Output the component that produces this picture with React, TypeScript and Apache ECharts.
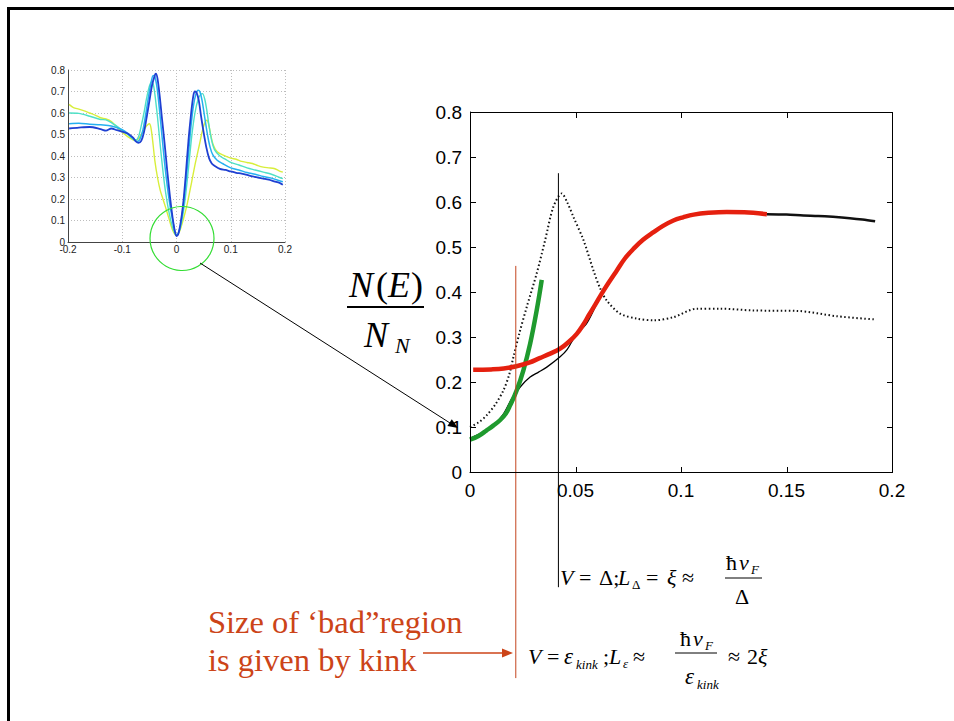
import React, { useEffect, useRef } from "react";
import * as echarts from "echarts";

// ---------- main chart data ----------
const mainXTicks = { min: 0, max: 0.2, interval: 0.05 };
const mainYTicks = { min: 0, max: 0.8, interval: 0.1 };

const dottedDOS: number[][] = [
  [0, 0.1], [0.004, 0.11], [0.0079, 0.126], [0.012, 0.15], [0.0158, 0.181], [0.0185, 0.215],
  [0.0206, 0.256], [0.0235, 0.31], [0.0269, 0.367], [0.0316, 0.441], [0.0356, 0.515],
  [0.0395, 0.589], [0.0435, 0.619], [0.046, 0.6], [0.049, 0.567], [0.0538, 0.515],
  [0.0585, 0.448], [0.0615, 0.41], [0.0648, 0.381], [0.0711, 0.352], [0.079, 0.341],
  [0.087, 0.337], [0.0964, 0.344], [0.1075, 0.363], [0.1186, 0.363], [0.134, 0.359],
  [0.155, 0.358], [0.174, 0.346], [0.192, 0.339],
];

const blackLow: number[][] = [
  [0, 0.075], [0.006, 0.088], [0.012, 0.108], [0.016, 0.13], [0.0198, 0.163], [0.024, 0.19],
  [0.0285, 0.211], [0.0325, 0.222], [0.0364, 0.233], [0.0427, 0.256], [0.046, 0.272],
  [0.049, 0.296], [0.0506, 0.307], [0.0553, 0.33], [0.0617, 0.389], [0.0696, 0.448],
  [0.0775, 0.496], [0.087, 0.533], [0.0964, 0.559], [0.106, 0.572], [0.1217, 0.578], [0.1407, 0.573],
];

const blackTail: number[][] = [
  [0.1407, 0.573], [0.15, 0.572], [0.158, 0.57], [0.165, 0.569], [0.172, 0.567],
  [0.18, 0.564], [0.186, 0.561], [0.192, 0.557],
];

const greenFit: number[][] = [
  [0, 0.072], [0.004, 0.08], [0.0079, 0.0926], [0.011, 0.103], [0.0142, 0.115], [0.017, 0.13],
  [0.019, 0.148], [0.0221, 0.181], [0.0253, 0.226], [0.0285, 0.285], [0.0316, 0.359], [0.034, 0.427],
];

const redFit: number[][] = [
  [0.0015, 0.227], [0.01, 0.228], [0.016, 0.23], [0.022, 0.235], [0.028, 0.243], [0.033, 0.253],
  [0.038, 0.263], [0.0427, 0.274], [0.047, 0.29], [0.0506, 0.307], [0.0535, 0.326], [0.0565, 0.35],
  [0.0595, 0.373], [0.0625, 0.397], [0.0656, 0.42], [0.0696, 0.448], [0.0735, 0.475], [0.0775, 0.496],
  [0.082, 0.516], [0.087, 0.533], [0.0915, 0.547], [0.0964, 0.559], [0.101, 0.566], [0.106, 0.572],
  [0.113, 0.576], [0.1217, 0.578], [0.13, 0.577], [0.1407, 0.573],
];

// vertical markers (extend past the plot, drawn unclipped)
const kinkLine: number[][] = [[0.0217, 0.458], [0.0217, -0.458]];
const gapLine: number[][] = [[0.0419, 0.664], [0.0419, -0.256]];

// ---------- inset data ----------
const insetXTicks = { min: -0.2, max: 0.2, interval: 0.1 };
const insetYTicks = { min: 0, max: 0.8, interval: 0.1 };

const insetYellow: number[][] = [
  [-0.198, 0.64], [-0.19, 0.625], [-0.18, 0.618], [-0.17, 0.61], [-0.16, 0.6], [-0.15, 0.59],
  [-0.14, 0.578], [-0.13, 0.572], [-0.12, 0.56], [-0.11, 0.535], [-0.1, 0.51], [-0.09, 0.49],
  [-0.08, 0.475], [-0.076, 0.473], [-0.07, 0.48], [-0.065, 0.5], [-0.06, 0.52], [-0.055, 0.54],
  [-0.05, 0.55], [-0.047, 0.53], [-0.043, 0.45], [-0.04, 0.38], [-0.035, 0.3], [-0.03, 0.24],
  [-0.025, 0.2], [-0.02, 0.16], [-0.014, 0.11], [-0.008, 0.06], [-0.003, 0.035], [0, 0.03],
  [0.005, 0.045], [0.012, 0.1], [0.02, 0.18], [0.028, 0.28], [0.035, 0.37], [0.042, 0.45],
  [0.048, 0.52], [0.053, 0.56], [0.056, 0.566], [0.059, 0.55], [0.063, 0.5], [0.068, 0.45],
  [0.075, 0.42], [0.085, 0.405], [0.1, 0.39], [0.11, 0.385], [0.12, 0.375], [0.13, 0.37],
  [0.14, 0.365], [0.15, 0.355], [0.16, 0.348], [0.17, 0.345], [0.18, 0.342], [0.19, 0.33], [0.196, 0.325],
];

const insetAqua: number[][] = [
  [-0.198, 0.6], [-0.18, 0.598], [-0.16, 0.585], [-0.14, 0.57], [-0.13, 0.568], [-0.12, 0.555],
  [-0.1, 0.52], [-0.09, 0.5], [-0.08, 0.48], [-0.075, 0.475], [-0.07, 0.49], [-0.065, 0.54],
  [-0.06, 0.6], [-0.055, 0.67], [-0.05, 0.725], [-0.046, 0.745], [-0.043, 0.735], [-0.04, 0.69],
  [-0.035, 0.58], [-0.03, 0.45], [-0.025, 0.33], [-0.02, 0.23], [-0.014, 0.14], [-0.008, 0.075],
  [-0.003, 0.04], [0, 0.03], [0.005, 0.05], [0.01, 0.1], [0.016, 0.2], [0.022, 0.34], [0.028, 0.49],
  [0.034, 0.6], [0.04, 0.665], [0.045, 0.688], [0.048, 0.69], [0.052, 0.665], [0.056, 0.61],
  [0.06, 0.54], [0.065, 0.47], [0.07, 0.43], [0.08, 0.4], [0.09, 0.385], [0.1, 0.37], [0.115, 0.358],
  [0.13, 0.345], [0.145, 0.335], [0.16, 0.325], [0.175, 0.315], [0.19, 0.3], [0.196, 0.295],
];

const insetLightBlue: number[][] = [
  [-0.198, 0.55], [-0.18, 0.552], [-0.16, 0.548], [-0.14, 0.545], [-0.12, 0.54], [-0.1, 0.522],
  [-0.09, 0.505], [-0.08, 0.48], [-0.073, 0.468], [-0.068, 0.475], [-0.062, 0.52], [-0.057, 0.59],
  [-0.052, 0.67], [-0.047, 0.74], [-0.043, 0.775], [-0.04, 0.77], [-0.036, 0.72], [-0.032, 0.63],
  [-0.027, 0.5], [-0.022, 0.37], [-0.017, 0.26], [-0.012, 0.17], [-0.007, 0.1], [-0.003, 0.05],
  [0, 0.03], [0.004, 0.045], [0.009, 0.1], [0.014, 0.2], [0.02, 0.35], [0.026, 0.52], [0.031, 0.63],
  [0.036, 0.69], [0.04, 0.706], [0.043, 0.7], [0.047, 0.66], [0.052, 0.58], [0.057, 0.5],
  [0.062, 0.44], [0.067, 0.405], [0.075, 0.38], [0.085, 0.365], [0.1, 0.345], [0.115, 0.335],
  [0.13, 0.323], [0.145, 0.315], [0.16, 0.305], [0.175, 0.297], [0.19, 0.285], [0.196, 0.28],
];

const insetBlue: number[][] = [
  [-0.198, 0.528], [-0.18, 0.532], [-0.16, 0.535], [-0.14, 0.525], [-0.13, 0.518], [-0.12, 0.528],
  [-0.11, 0.52], [-0.1, 0.513], [-0.09, 0.505], [-0.08, 0.485], [-0.075, 0.468], [-0.07, 0.461],
  [-0.065, 0.47], [-0.06, 0.51], [-0.055, 0.58], [-0.05, 0.655], [-0.045, 0.73], [-0.04, 0.775],
  [-0.038, 0.783], [-0.035, 0.76], [-0.031, 0.68], [-0.027, 0.58], [-0.022, 0.46], [-0.017, 0.33],
  [-0.012, 0.21], [-0.007, 0.11], [-0.003, 0.05], [0, 0.028], [0.003, 0.035], [0.007, 0.08],
  [0.012, 0.17], [0.017, 0.31], [0.022, 0.47], [0.027, 0.6], [0.031, 0.68], [0.034, 0.7],
  [0.037, 0.695], [0.041, 0.66], [0.045, 0.59], [0.05, 0.51], [0.055, 0.44], [0.06, 0.39],
  [0.065, 0.365], [0.07, 0.355], [0.08, 0.34], [0.09, 0.335], [0.1, 0.328], [0.11, 0.322],
  [0.12, 0.318], [0.13, 0.312], [0.14, 0.305], [0.15, 0.3], [0.16, 0.295], [0.17, 0.29],
  [0.18, 0.282], [0.19, 0.275], [0.196, 0.266],
];

// ---------- layout ----------
const MAIN_GRID = { left: 470, top: 112, width: 422, height: 360 };
const INSET_GRID = { left: 68, top: 70, width: 217, height: 172 };

// ---------- text ----------
const SERIF = '"Liberation Serif", "Times New Roman", serif';
const SANS = '"Liberation Sans", Arial, sans-serif';
const RED_TEXT = "#cc4418";

function T(text: string, x: number, baseline: number, size: number, italic = false, color = "#000", align = "left") {
  const font = `${italic ? "italic " : ""}${size}px ${SERIF}`;
  const y = baseline - 0.335 * size;
  return {
    type: "text",
    silent: true,
    z: 100,
    style: {
      text, x, y, font, fill: color,
      textAlign: align, align,
      textVerticalAlign: "middle", verticalAlign: "middle",
    },
  };
}

function L(x1: number, y1: number, x2: number, y2: number, color = "#000", w = 1) {
  return { type: "line", silent: true, z: 100, shape: { x1, y1, x2, y2 }, style: { stroke: color, lineWidth: w } };
}

// solid filled bar (used for the plot box edges and ticks)
function R(x: number, y: number, width: number, height: number, color = "#000") {
  return { type: "rect", silent: true, z: 100, shape: { x, y, width, height }, style: { fill: color } };
}

function lineSeries(data: number[][], color: string, width: number, axisIdx: number, extra: any = {}) {
  return {
    type: "line",
    data,
    xAxisIndex: axisIdx,
    yAxisIndex: axisIdx,
    showSymbol: false,
    symbol: "none",
    smooth: extra.smooth ?? false,
    silent: true,
    lineStyle: { color, width, ...(extra.lineStyle || {}) },
    ...(extra.clip === false ? { clip: false } : {}),
  };
}

function tickValues(t: { min: number; max: number; interval: number }) {
  const out: number[] = [];
  const n = Math.round((t.max - t.min) / t.interval);
  for (let i = 0; i <= n; i++) out.push(+(t.min + i * t.interval).toFixed(6));
  return out;
}

// main-plot value -> pixel, following the grid's linear value axes
const mainPx = (x: number, y: number) => [
  MAIN_GRID.left + ((x - mainXTicks.min) / (mainXTicks.max - mainXTicks.min)) * MAIN_GRID.width,
  MAIN_GRID.top + MAIN_GRID.height - ((y - mainYTicks.min) / (mainYTicks.max - mainYTicks.min)) * MAIN_GRID.height,
];

function boxGraphic(): any[] {
  const tl = mainPx(mainXTicks.min, mainYTicks.max);
  const br = mainPx(mainXTicks.max, mainYTicks.min);
  const x0 = Math.round(tl[0]), y0 = Math.round(tl[1]);
  const x1 = Math.round(br[0]), y1 = Math.round(br[1]);
  const out: any[] = [
    R(x0, y0, x1 - x0 + 1, 1),          // top edge
    R(x1, y0, 1, y1 - y0 + 1),          // right edge
    R(x0, y0, 1, y1 - y0 + 1),          // left edge
    R(x0, y1, x1 - x0 + 1, 1),          // bottom edge
  ];
  for (const v of tickValues(mainXTicks)) {
    const x = Math.round(mainPx(v, 0)[0]);
    out.push(R(x, y1 - 5, 1, 5), R(x, y0 + 1, 1, 5));
  }
  for (const v of tickValues(mainYTicks)) {
    const y = Math.round(mainPx(0, v)[1]);
    out.push(R(x0 + 1, y, 5, 1), R(x1 - 5, y, 5, 1));
  }
  return out;
}

const staticGraphic: any[] = [
  // slide frame
  R(7, 7, 947, 3),
  R(7, 7, 3, 714),
  // zoom circle + arrow to main chart
  { type: "circle", silent: true, z: 100, shape: { cx: 182, cy: 238.5, r: 32 }, style: { fill: "none", stroke: "#33dd33", lineWidth: 1.2 } },
  L(200, 263, 450, 423, "#000", 1),
  { type: "polygon", silent: true, z: 100, shape: { points: [[458, 428], [447.4, 426], [451.8, 419.2]] }, style: { fill: "#000" } },
  // N(E)/N_N
  T("N", 349, 297, 36, true),
  T("(", 376, 297, 36),
  T("E", 388, 297, 36, true),
  T(")", 411, 297, 36),
  L(347, 307, 424, 307, "#000", 2),
  T("N", 364, 347, 36, true),
  T("N", 395, 353, 22, true),
  // red annotation
  T("Size of \u2018bad\u201dregion", 208, 633, 32.5, false, RED_TEXT),
  T("is given by kink", 208, 671, 32.5, false, RED_TEXT),
  L(423, 653, 504, 653, RED_TEXT, 1.5),
  { type: "polygon", silent: true, z: 100, shape: { points: [[513, 653], [502, 648.5], [502, 657.5]] }, style: { fill: RED_TEXT } },
  // equation 1
  T("V", 560, 585, 22, true),
  T("=", 579, 585, 22),
  T("\u0394;", 599, 585, 22),
  T("L", 618, 585, 22, true),
  T("\u0394", 632, 589, 13),
  T("=", 646, 585, 22),
  T("\u03be", 667, 585, 22, true),
  T("\u2248", 682, 585, 22),
  T("\u0127", 726, 570, 22),
  T("v", 739, 570, 22, true),
  T("F", 751, 574, 13, true),
  L(725, 578, 762, 578, "#000", 1),
  T("\u0394", 735, 604, 22),
  // equation 2
  T("V", 528, 664, 22, true),
  T("=", 547, 664, 22),
  T("\u03b5", 564, 664, 23, true),
  T("kink", 576, 669, 13, true),
  T(";", 603, 664, 22),
  T("L", 609, 664, 22, true),
  T("\u03b5", 623, 668, 13, true),
  T("\u2248", 633, 664, 22),
  T("\u0127", 680, 646, 22),
  T("v", 693, 646, 22, true),
  T("F", 705, 650, 13, true),
  L(675, 653, 717, 653, "#000", 1),
  T("\u03b5", 685, 684, 23, true),
  T("kink", 697, 689, 13, true),
  T("\u2248", 728, 664, 22),
  T("2", 747, 664, 22),
  T("\u03be", 758, 664, 22, true),
];

export default function App() {
  const ref = useRef<HTMLDivElement>(null);

  useEffect(() => {
    if (!ref.current) return;
    const chart = echarts.init(ref.current, null, { renderer: "svg" });

    const mainLabel = { fontSize: 19, color: "#000", fontFamily: SANS };
    const insetLabel = { fontSize: 10, color: "#222", fontFamily: SANS };

    const option: any = {
      animation: false,
      backgroundColor: "#fff",
      grid: [MAIN_GRID, INSET_GRID],
      xAxis: [
        {
          gridIndex: 0, type: "value", ...mainXTicks, position: "bottom",
          axisLine: { show: true, onZero: false, lineStyle: { color: "#000", width: 1 } },
          axisTick: { show: false },
          axisLabel: { ...mainLabel, margin: 9 },
          splitLine: { show: false },
        },
        {
          gridIndex: 1, type: "value", ...insetXTicks, position: "bottom",
          axisLine: { show: true, onZero: false, lineStyle: { color: "#444", width: 1 } },
          axisTick: { show: false },
          axisLabel: { ...insetLabel, margin: 2 },
          splitLine: { show: true, lineStyle: { color: "#bdbdbd", type: [1, 2], width: 1 } },
        },
      ],
      yAxis: [
        {
          gridIndex: 0, type: "value", ...mainYTicks, position: "left",
          axisLine: { show: true, onZero: false, lineStyle: { color: "#000", width: 1 } },
          axisTick: { show: false },
          axisLabel: { ...mainLabel, margin: 8 },
          splitLine: { show: false },
        },
        {
          gridIndex: 1, type: "value", ...insetYTicks, position: "left",
          axisLine: { show: true, onZero: false, lineStyle: { color: "#444", width: 1 } },
          axisTick: { show: false },
          axisLabel: { ...insetLabel, margin: 3 },
          splitLine: { show: true, lineStyle: { color: "#bdbdbd", type: [1, 2], width: 1 } },
        },
      ],
      series: [
        lineSeries(dottedDOS, "#111", 2, 0, { lineStyle: { type: [1.5, 2.5] }, smooth: 0.3 }),
        lineSeries(blackLow, "#000", 1.3, 0, { smooth: 0.3 }),
        lineSeries(blackTail, "#111", 2.5, 0, { smooth: 0.3 }),
        lineSeries(greenFit, "#1f9a2e", 4.5, 0, { smooth: 0.4 }),
        lineSeries(redFit, "#e5200f", 4.5, 0, { smooth: 0.4 }),
        lineSeries(kinkLine, "#c4451f", 1, 0, { clip: false }),
        lineSeries(gapLine, "#000", 1, 0, { clip: false }),
        lineSeries(insetYellow, "#d8ee3a", 1.4, 1, { smooth: 0.3 }),
        lineSeries(insetAqua, "#4fe0c6", 1.4, 1, { smooth: 0.3 }),
        lineSeries(insetLightBlue, "#25b0f0", 1.5, 1, { smooth: 0.3 }),
        lineSeries(insetBlue, "#1f40d2", 1.8, 1, { smooth: 0.3 }),
      ],
      graphic: [...staticGraphic, ...boxGraphic()],
    };

    chart.setOption(option);
    return () => chart.dispose();
  }, []);

  return (
    <div
      ref={ref}
      style={{ position: "fixed", left: 0, top: 0, width: 954, height: 721, background: "#fff" }}
    />
  );
}
